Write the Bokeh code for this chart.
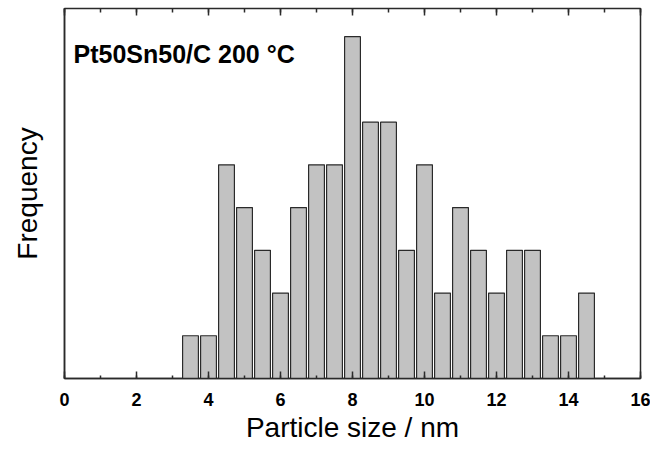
from bokeh.plotting import figure
from bokeh.models import LinearAxis, SingleIntervalTicker, FixedTicker, Range1d, Label, ColumnDataSource
from bokeh.embed import file_html
from bokeh.resources import INLINE

# Data
bin_centers = [3.5, 4.0, 4.5, 5.0, 5.5, 6.0, 6.5, 7.0, 7.5, 8.0, 8.5, 9.0,
               9.5, 10.0, 10.5, 11.0, 11.5, 12.0, 12.5, 13.0, 13.5, 14.0, 14.5]
counts = [1, 1, 5, 4, 3, 2, 4, 5, 5, 8, 6, 6,
          3, 5, 2, 4, 3, 2, 3, 3, 1, 1, 2]
title_text = "Pt50Sn50/C 200 °C"
x_label = "Particle size / nm"
y_label = "Frequency"

FONT = "Liberation Sans"
AXC = "#2a2a2a"

src = ColumnDataSource(dict(x=bin_centers, top=counts))

p = figure(width=650, height=445, output_backend="svg", toolbar_location=None,
           x_range=Range1d(0, 16), y_range=Range1d(0, 8.66),
           min_border_left=64, min_border_right=10, min_border_top=8, min_border_bottom=63)
p.grid.visible = False
p.background_fill_color = "white"
p.outline_line_color = AXC
p.outline_line_width = 1.5

p.vbar(x="x", top="top", bottom=0, width=0.44, source=src,
       fill_color="#c2c2c2", line_color="#2a2a2a", line_width=1.2)

# bottom axis
xa = p.xaxis[0]
xa.ticker = SingleIntervalTicker(interval=2, num_minor_ticks=2)
xa.major_tick_in = 7
xa.major_tick_out = 0
xa.minor_tick_in = 3
xa.minor_tick_out = 0
xa.major_tick_line_color = AXC
xa.minor_tick_line_color = AXC
xa.major_tick_line_width = 1.5
xa.minor_tick_line_width = 1.5
xa.axis_line_color = AXC
xa.axis_line_width = 1.5
xa.major_label_text_font = FONT
xa.major_label_text_font_style = "bold"
xa.major_label_text_font_size = "18px"
xa.major_label_text_color = "black"
xa.major_label_standoff = 14
xa.axis_label = x_label
xa.axis_label_text_font = FONT
xa.axis_label_text_font_style = "normal"
xa.axis_label_text_font_size = "28px"
xa.axis_label_text_color = "black"
xa.axis_label_standoff = 3

# left axis: no ticks
ya = p.yaxis[0]
ya.ticker = FixedTicker(ticks=[])
ya.major_tick_in = 0
ya.major_tick_out = 0
ya.minor_tick_in = 0
ya.minor_tick_out = 0
ya.axis_line_color = AXC
ya.axis_line_width = 1.5
ya.axis_label = y_label
ya.axis_label_text_font = FONT
ya.axis_label_text_font_style = "normal"
ya.axis_label_text_font_size = "28px"
ya.axis_label_text_color = "black"
ya.axis_label_standoff = 22

# top axis: ticks only, no labels
ta = LinearAxis(ticker=SingleIntervalTicker(interval=2, num_minor_ticks=2))
ta.major_tick_in = 7
ta.major_tick_out = 0
ta.minor_tick_in = 4
ta.minor_tick_out = 0
ta.major_tick_line_color = AXC
ta.minor_tick_line_color = AXC
ta.major_tick_line_width = 1.5
ta.minor_tick_line_width = 1.5
ta.axis_line_color = None
ta.major_label_text_font_size = "1px"
ta.major_label_text_color = None
ta.major_label_standoff = 0
p.add_layout(ta, "above")

lab = Label(x=0.25, y=7.59, text=title_text, text_font=FONT, text_font_style="bold",
            text_font_size="25px", text_color="black", text_baseline="alphabetic")
p.add_layout(lab)

open("out.html", "w").write(file_html(p, INLINE))
